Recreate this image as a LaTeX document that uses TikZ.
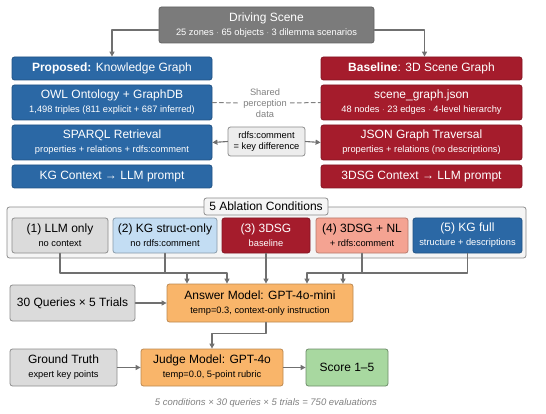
\documentclass[tikz,border=0pt]{standalone}
\usepackage{fontspec}
\setmainfont{Liberation Sans}
\usetikzlibrary{arrows.meta}

\definecolor{kgblue}{HTML}{2B68A5}
\definecolor{sgred}{HTML}{A51C2C}
\definecolor{scenegray}{HTML}{7B7B7B}
\definecolor{lineg}{HTML}{707070}
\definecolor{lightblue}{HTML}{C3DDF3}
\definecolor{salmon}{HTML}{F4A392}
\definecolor{answerorange}{HTML}{F9B56A}
\definecolor{scoregreen}{HTML}{A8D8A0}

\newcommand{\subline}[1]{{\fontsize{9.3}{11}\selectfont #1}}

\begin{document}
\begin{tikzpicture}[x=1pt, y=-1pt, line cap=round, line join=round,
    box/.style={rounded corners=2.5pt, line width=0.8pt, align=center, inner sep=1pt,
        font=\fontsize{12}{14}\selectfont},
    bluebox/.style={box, fill=kgblue, draw=kgblue!80!black, text=white},
    redbox/.style={box, fill=sgred, draw=sgred!80!black, text=white},
    greybox/.style={box, fill=black!14, draw=black!45},
    orangebox/.style={box, fill=answerorange, draw=answerorange!75!black},
    arr/.style={draw=lineg, line width=1.1pt, -{Triangle[length=5pt, width=5pt]}},
    dashline/.style={draw=black!50, line width=1pt, dash pattern=on 4pt off 3pt}]
    \useasboundingbox (0,0) rectangle (546,414);

    % Scena di partenza
    \node[box, fill=scenegray, draw=scenegray!80!black, text=white,
        minimum width=215pt, minimum height=36pt] (scene) at (266.5,25)
        {Driving Scene\\\subline{25 zones $\cdot$ 65 objects $\cdot$ 3 dilemma scenarios}};

    % Colonna KG (proposta)
    \node[bluebox, minimum width=200pt, minimum height=23pt] (kghead) at (112,68.5)
        {\textbf{Proposed:} Knowledge Graph};
    \node[bluebox, minimum width=200pt, minimum height=35pt] (owl) at (112,102.5)
        {OWL Ontology + GraphDB\\\subline{1,498 triples (811 explicit + 687 inferred)}};
    \node[bluebox, minimum width=200pt, minimum height=35pt] (sparql) at (112,142.5)
        {SPARQL Retrieval\\\subline{properties + relations + rdfs:comment}};
    \node[bluebox, minimum width=200pt, minimum height=23pt] (kgctx) at (112,176.5)
        {KG Context → LLM prompt};

    % Colonna 3DSG (baseline)
    \node[redbox, minimum width=201pt, minimum height=23pt] (sghead) at (421.5,68.5)
        {\textbf{Baseline}: 3D Scene Graph};
    \node[redbox, minimum width=201pt, minimum height=35pt] (sgjson) at (421.5,102.5)
        {scene\_graph.json\\\subline{48 nodes $\cdot$ 23 edges $\cdot$ 4-level hierarchy}};
    \node[redbox, minimum width=201pt, minimum height=35pt] (jsontrav) at (421.5,142.5)
        {JSON Graph Traversal\\\subline{properties + relations (no descriptions)}};
    \node[redbox, minimum width=201pt, minimum height=23pt] (sgctx) at (421.5,176.5)
        {3DSG Context → LLM prompt};

    % Dati condivisi e differenza chiave
    \node[text=black!50, align=center, font=\fontsize{9.3}{11}\selectfont] (shared) at (265,103)
        {Shared\\perception\\data};
    \node[box, fill=black!7, draw=black!45, minimum width=77pt, minimum height=29pt,
        font=\fontsize{9.3}{11}\selectfont] (cmt) at (266.5,141.5)
        {rdfs:comment\\= key difference};

    \draw[arr] ([yshift=-5pt]scene.west) -| (kghead.north);
    \draw[arr] ([yshift=-5pt]scene.east) -| ([xshift=3pt]sghead.north);
    \draw[dashline] (owl.east) -- (shared.west);
    \draw[dashline] (shared.east) -- (sgjson.west);
    \draw[arr] (cmt.west) -- (sparql.east);
    \draw[arr] (cmt.east) -- (jsontrav.west);

    % Condizioni di ablazione
    \node[draw=black!45, fill=black!4, line width=0.8pt, rounded corners=2.5pt,
        minimum width=519pt, minimum height=51pt] (ablation) at (266.5,232.5) {};
    \node[draw=black!45, fill=black!4, line width=0.8pt, rounded corners=2.5pt,
        minimum width=124pt, minimum height=17pt, inner sep=0pt,
        font=\fontsize{12}{14}\selectfont] (abltitle) at (266,206.5) {5 Ablation Conditions};

    \node[greybox, minimum width=96pt, minimum height=35pt] (cond1) at (60,235.5)
        {(1) LLM only\\\subline{no context}};
    \node[box, fill=lightblue, draw=lightblue!70!black, minimum width=104pt, minimum height=35pt]
        (cond2) at (165,235.5) {(2) KG struct-only\\\subline{no rdfs:comment}};
    \node[redbox, minimum width=88pt, minimum height=35pt] (cond3) at (266,235.5)
        {(3) 3DSG\\\subline{baseline}};
    \node[box, fill=salmon, draw=salmon!75!black, minimum width=92pt, minimum height=35pt]
        (cond4) at (362,235.5) {(4) 3DSG + NL\\\subline{+ rdfs:comment}};
    \node[bluebox, minimum width=109pt, minimum height=35pt] (cond5) at (467.5,235.5)
        {(5) KG full\\\subline{structure + descriptions}};

    % Modello di risposta
    \node[orangebox, minimum width=186pt, minimum height=38pt] (answer) at (260,303)
        {Answer Model: GPT-4o-mini\\\subline{temp=0.3, context-only instruction}};
    \node[greybox, minimum width=125pt, minimum height=36pt] (queries) at (72.5,303)
        {30 Queries × 5 Trials};

    \coordinate (bus) at (0,273);
    \draw[arr] (cond1.south) -- (cond1.south |- bus) -| ([xshift=-73pt]answer.north);
    \draw[arr] (cond2.south) -- (cond2.south |- bus) -| ([xshift=-33pt]answer.north);
    \draw[arr] (cond3.south) -- (cond3.south |- answer.north);
    \draw[arr] (cond4.south) -- (cond4.south |- bus) -| ([xshift=47pt]answer.north);
    \draw[arr] (cond5.south) -- (cond5.south |- bus) -| ([xshift=83pt]answer.north);
    \draw[arr] (queries.east) -- (answer.west);

    % Valutazione
    \node[orangebox, minimum width=142pt, minimum height=37pt] (judge) at (212,367.5)
        {Judge Model: GPT-4o\\\subline{temp=0.0, 5-point rubric}};
    \node[greybox, minimum width=107pt, minimum height=37pt] (truth) at (63.5,367.5)
        {Ground Truth\\\subline{expert key points}};
    \node[box, fill=scoregreen, draw=scoregreen!65!black, minimum width=82pt, minimum height=37pt]
        (score) at (347,367.5) {Score 1–5};

    \draw[arr] ([xshift=6pt]answer.south) -- ++(0,11) -| (judge.north);
    \draw[arr] (truth.east) -- (judge.west);
    \draw[arr] (judge.east) -- (score.west);

    % Nota finale
    \node[text=black!50, font=\fontsize{9.5}{11}\selectfont\itshape] (footer) at (266,403)
        {5 conditions × 30 queries × 5 trials = 750 evaluations};
\end{tikzpicture}
\end{document}
